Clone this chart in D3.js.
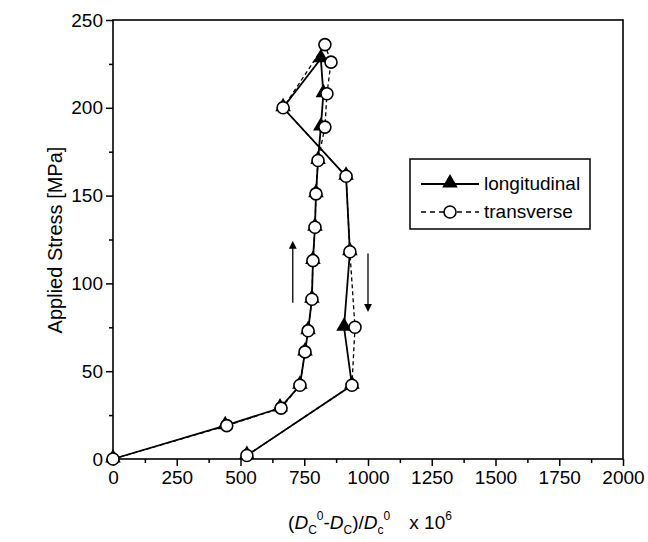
<!DOCTYPE html>
<html>
<head>
<meta charset="utf-8">
<script src="https://cdn.jsdelivr.net/npm/d3@7"></script>
<style>
  body { margin: 0; background: #fff; }
  svg { display: block; font-family: "Liberation Sans", Arial, sans-serif; }
</style>
</head>
<body>
<svg id="chart" width="648" height="542"></svg>
<script>
// ---- data ----
const longStrain = [0, 440, 655, 733, 753, 765, 780, 784, 792, 796, 804, 815, 825, 815, 667, 914, 929, 906, 937, 525];
const longStress = [0, 19, 29, 42, 61, 73, 91, 113, 132, 151, 170, 189, 208, 228, 200, 161, 118, 75, 42, 2];
const transStrain = [0, 446, 659, 733, 753, 765, 780, 784, 792, 796, 804, 831, 839, 855, 831, 667, 914, 929, 949, 937, 525];
const transStress = [0, 19, 29, 42, 61, 73, 91, 113, 132, 151, 170, 189, 208, 226, 236, 200, 161, 118, 75, 42, 2];
const xTicks = [0, 250, 500, 750, 1000, 1250, 1500, 1750, 2000];
const yTicks = [0, 50, 100, 150, 200, 250];
const legendLabels = ["longitudinal", "transverse"];

const svg = d3.select("#chart");
const x = d3.scaleLinear().domain([0, 2000]).range([113, 623]);
const y = d3.scaleLinear().domain([0, 250]).range([459, 20]);

// frame
svg.append("rect").attr("x", 113).attr("y", 20).attr("width", 510).attr("height", 439)
  .attr("fill", "none").attr("stroke", "#000").attr("stroke-width", 1.6);

// axes
const xAxis = svg.append("g").attr("transform", "translate(0,459)")
  .call(d3.axisBottom(x).tickValues(xTicks).tickSize(7).tickPadding(5).tickFormat(d3.format("d")));
const xMinor = svg.append("g").attr("transform", "translate(0,459)")
  .call(d3.axisBottom(x).tickValues(d3.range(125, 2000, 250)).tickSize(4).tickFormat(""));
const yAxis = svg.append("g").attr("transform", "translate(113,0)")
  .call(d3.axisLeft(y).tickValues(yTicks).tickSize(7).tickPadding(3));
const yMinor = svg.append("g").attr("transform", "translate(113,0)")
  .call(d3.axisLeft(y).tickValues(d3.range(25, 250, 50)).tickSize(4).tickFormat(""));
[xAxis, xMinor, yAxis, yMinor].forEach(g => {
  g.select(".domain").remove();
  g.selectAll("line").attr("stroke", "#000").attr("stroke-width", 1.5);
  g.selectAll("text").attr("fill", "#000").attr("font-size", 19)
    .attr("font-family", "'Liberation Sans', Arial, sans-serif");
});

// axis titles
svg.append("text").attr("transform", "translate(62,240) rotate(-90)")
  .attr("text-anchor", "middle").attr("font-size", 20).text("Applied Stress [MPa]");

const xt = svg.append("text").attr("x", 370).attr("y", 529).attr("text-anchor", "middle").attr("font-size", 19);
xt.append("tspan").text("(");
xt.append("tspan").attr("font-style", "italic").text("D");
xt.append("tspan").attr("font-size", 12).attr("dy", 5).text("C");
xt.append("tspan").attr("font-size", 12).attr("dy", -14).text("0");
xt.append("tspan").attr("dy", 9).text("-");
xt.append("tspan").attr("font-style", "italic").text("D");
xt.append("tspan").attr("font-size", 12).attr("dy", 5).text("C");
xt.append("tspan").attr("dy", -5).text(")/");
xt.append("tspan").attr("font-style", "italic").text("D");
xt.append("tspan").attr("font-size", 12).attr("dy", 5).text("c");
xt.append("tspan").attr("font-size", 12).attr("dy", -14).text("0");
xt.append("tspan").attr("dy", 9).text("\u2003x 10");
xt.append("tspan").attr("font-size", 12).attr("dy", -9).text("6");

// lines
const longData = longStrain.map((v, i) => [v, longStress[i]]);
const transData = transStrain.map((v, i) => [v, transStress[i]]);
const line = d3.line().x(d => x(d[0])).y(d => y(d[1]));

svg.append("path").datum(transData).attr("d", line).attr("fill", "none")
  .attr("stroke", "#000").attr("stroke-width", 1.3).attr("stroke-dasharray", "4,3");
svg.append("path").datum(longData).attr("d", line).attr("fill", "none")
  .attr("stroke", "#000").attr("stroke-width", 1.8);

const tri = d3.symbol().type(d3.symbolTriangle).size(105);
svg.selectAll(".tri").data(longData).enter().append("path")
  .attr("transform", d => `translate(${x(d[0])},${y(d[1]) - 1})`)
  .attr("d", tri).attr("fill", "#000");
svg.selectAll(".circ").data(transData).enter().append("circle")
  .attr("cx", d => x(d[0])).attr("cy", d => y(d[1])).attr("r", 6)
  .attr("fill", "#fff").attr("stroke", "#000").attr("stroke-width", 1.6);

// arrows
svg.append("defs").append("marker").attr("id", "ah").attr("viewBox", "0 0 10 10")
  .attr("refX", 5).attr("refY", 5).attr("markerWidth", 6).attr("markerHeight", 10)
  .attr("orient", "auto").append("path").attr("d", "M0,0 L10,5 L0,10 Z").attr("fill", "#000");
svg.append("line").attr("x1", x(705)).attr("x2", x(705)).attr("y1", y(89)).attr("y2", y(122))
  .attr("stroke", "#000").attr("stroke-width", 1.3).attr("marker-end", "url(#ah)");
svg.append("line").attr("x1", x(1000)).attr("x2", x(1000)).attr("y1", y(117)).attr("y2", y(86))
  .attr("stroke", "#000").attr("stroke-width", 1.3).attr("marker-end", "url(#ah)");

// legend
const lg = svg.append("g");
lg.append("rect").attr("x", 410).attr("y", 159).attr("width", 180).attr("height", 70)
  .attr("fill", "#fff").attr("stroke", "#000").attr("stroke-width", 1.5);
const ly = [184, 212];
lg.append("line").attr("x1", 421).attr("x2", 479).attr("y1", ly[0]).attr("y2", ly[0])
  .attr("stroke", "#000").attr("stroke-width", 1.8);
lg.append("path").attr("transform", `translate(450,${ly[0] - 1})`).attr("d", tri).attr("fill", "#000");
lg.append("line").attr("x1", 421).attr("x2", 479).attr("y1", ly[1]).attr("y2", ly[1])
  .attr("stroke", "#000").attr("stroke-width", 1.3).attr("stroke-dasharray", "5,4");
lg.append("circle").attr("cx", 450).attr("cy", ly[1]).attr("r", 6)
  .attr("fill", "#fff").attr("stroke", "#000").attr("stroke-width", 1.6);
lg.selectAll(".lt").data(legendLabels).enter().append("text")
  .attr("x", 484).attr("y", (d, i) => ly[i] + 6).attr("font-size", 19).text(d => d);
</script>
</body>
</html>
